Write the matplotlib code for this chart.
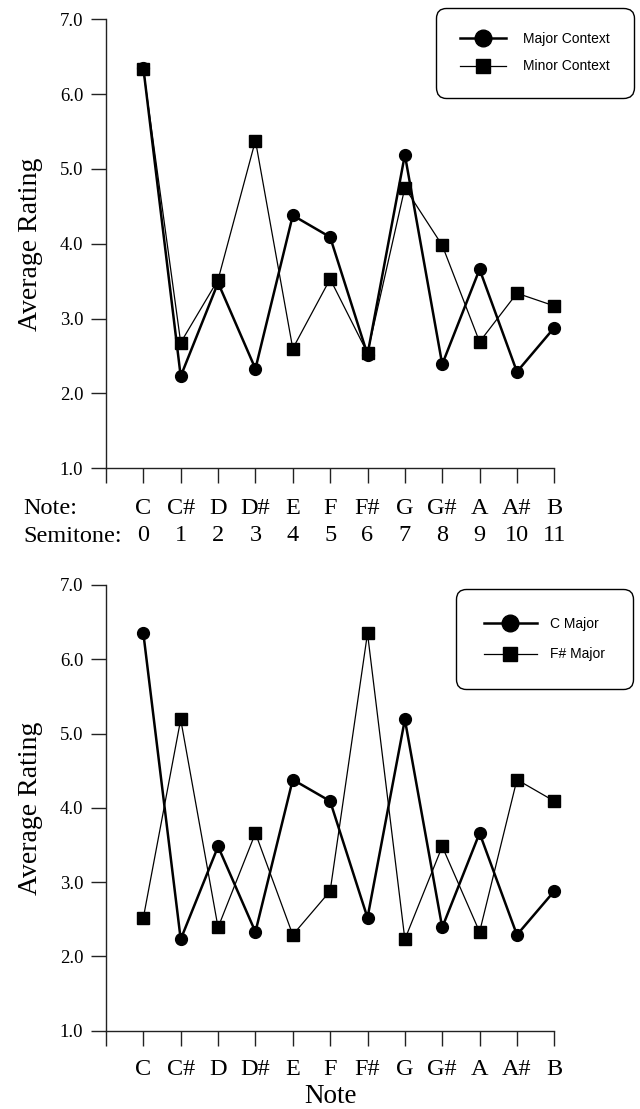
import matplotlib
matplotlib.use('Agg')
import matplotlib.pyplot as plt
from matplotlib.lines import Line2D

# probe-tone ratings (Krumhansl & Kessler style profiles)
notes = ['C', 'C#', 'D', 'D#', 'E', 'F', 'F#', 'G', 'G#', 'A', 'A#', 'B']
semitones = [0, 1, 2, 3, 4, 5, 6, 7, 8, 9, 10, 11]
major_context = [6.35, 2.23, 3.48, 2.33, 4.38, 4.09, 2.52, 5.19, 2.39, 3.66, 2.29, 2.88]
minor_context = [6.33, 2.68, 3.52, 5.38, 2.60, 3.53, 2.54, 4.75, 3.98, 2.69, 3.34, 3.17]
c_major = [6.35, 2.23, 3.48, 2.33, 4.38, 4.09, 2.52, 5.19, 2.39, 3.66, 2.29, 2.88]
fs_major = [2.52, 5.19, 2.39, 3.66, 2.29, 2.88, 6.35, 2.23, 3.48, 2.33, 4.38, 4.09]
yticks = [1.0, 2.0, 3.0, 4.0, 5.0, 6.0, 7.0]

SERIF = 'Liberation Serif'
SANS = 'Liberation Sans'
AXC = '#222222'

fig = plt.figure(figsize=(6.4, 11.09), dpi=100)
ax1 = fig.add_axes([0.1656, 0.5777, 0.7005, 0.4049])
ax2 = fig.add_axes([0.1656, 0.0706, 0.7005, 0.4019])


def style_axis(ax, xlabels, pad):
    ax.set_xlim(-1, 11)
    ax.set_ylim(1, 7)
    for s in ['top', 'right']:
        ax.spines[s].set_visible(False)
    for s in ['left', 'bottom']:
        ax.spines[s].set_color(AXC)
        ax.spines[s].set_linewidth(1.0)
    ax.set_xticks(list(range(-1, 12)))
    ax.set_xticklabels([''] + xlabels, fontfamily=SERIF, fontsize=17.5,
                       linespacing=1.35)
    ax.set_yticks(yticks)
    ax.set_yticklabels([f'{v:.1f}' for v in yticks], fontfamily=SERIF, fontsize=13.5)
    ax.tick_params(axis='x', direction='out', length=10.8, width=1.0,
                   color=AXC, pad=pad)
    ax.tick_params(axis='y', direction='out', length=10.8, width=1.0,
                   color=AXC, pad=5.5)
    ax.set_ylabel('Average Rating', fontfamily=SERIF, fontsize=20, labelpad=12)


def add_legend(ax, labels, anchor, **kw):
    handles = [Line2D([], [], color='black', lw=1.8, marker='o', ms=12,
                      markerfacecolor='black'),
               Line2D([], [], color='black', lw=0.9, marker='s', ms=10.5,
                      markerfacecolor='black')]
    leg = ax.legend(handles, labels, loc='upper left', bbox_to_anchor=anchor,
                    bbox_transform=fig.transFigure, borderaxespad=0,
                    prop={'family': SANS, 'size': 10}, frameon=True,
                    fancybox=True, framealpha=1, edgecolor='black', **kw)
    fr = leg.get_frame()
    fr.set_linewidth(1.0)
    fr.set_boxstyle('round', pad=0, rounding_size=0.75)
    return leg


# top panel: major vs minor context
ax1.plot(semitones, major_context, color='black', lw=1.8, marker='o', ms=8.5,
         markerfacecolor='black', clip_on=False, zorder=3)
ax1.plot(semitones, minor_context, color='black', lw=0.9, marker='s', ms=8.5,
         markerfacecolor='black', clip_on=False, zorder=3)
style_axis(ax1, [f'{n}\n{s}' for n, s in zip(notes, semitones)], pad=10.5)
fig.text(23 / 640, 1 - 514 / 1109, 'Note:', fontfamily=SERIF, fontsize=17.5,
         ha='left', va='baseline')
fig.text(23 / 640, 1 - 542 / 1109, 'Semitone:', fontfamily=SERIF, fontsize=17.5,
         ha='left', va='baseline')
add_legend(ax1, ['Major Context', 'Minor Context'], (436 / 640, 1 - 8 / 1109),
           borderpad=1.75, handlelength=3.3, labelspacing=0.95,
           handletextpad=1.2)

# bottom panel: C major vs F# major
ax2.plot(semitones, c_major, color='black', lw=1.8, marker='o', ms=8.5,
         markerfacecolor='black', clip_on=False, zorder=3)
ax2.plot(semitones, fs_major, color='black', lw=0.9, marker='s', ms=8.5,
         markerfacecolor='black', clip_on=False, zorder=3)
style_axis(ax2, notes, pad=9.5)
ax2.set_xlabel('Note', fontfamily=SERIF, fontsize=19.5, labelpad=3)
add_legend(ax2, ['C Major', 'F# Major'], (456 / 640, 1 - 589 / 1109),
           borderpad=2.0, handlelength=3.8, labelspacing=1.2,
           handletextpad=1.0)

fig.savefig('out.png', dpi=100)
